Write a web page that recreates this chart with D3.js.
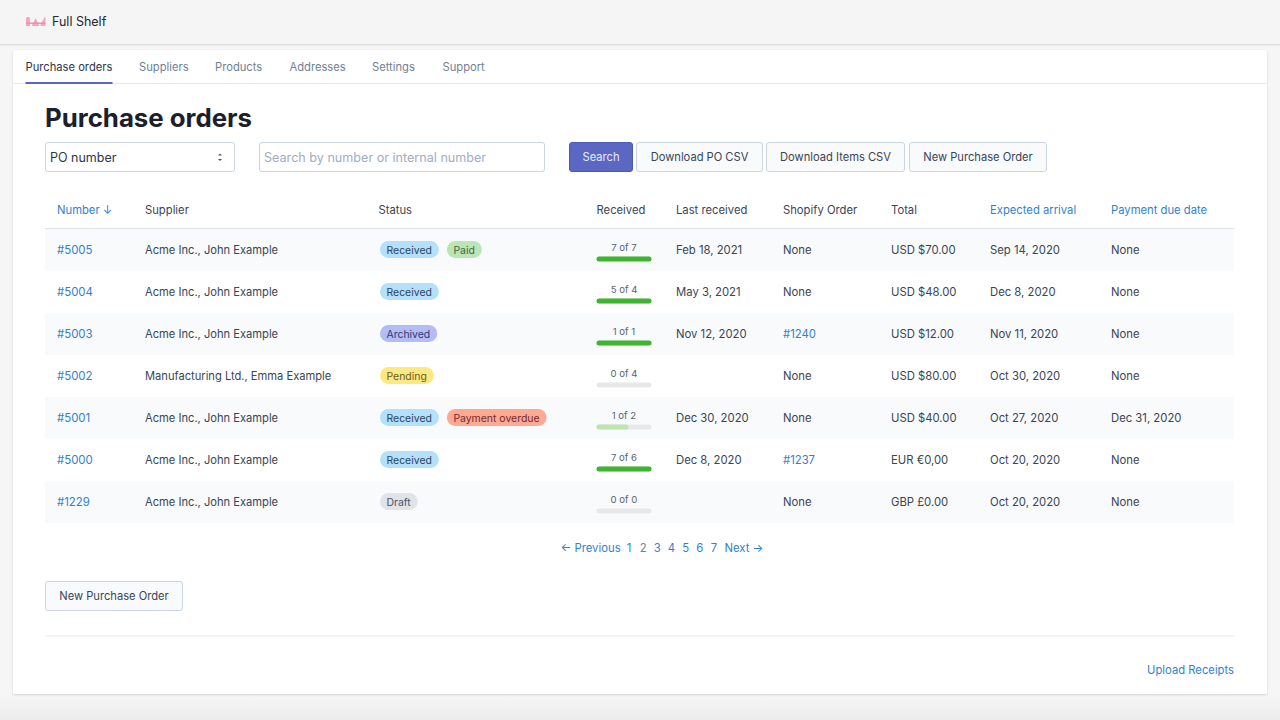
<!DOCTYPE html>
<html>
<head>
<meta charset="utf-8">
<script src="https://cdn.jsdelivr.net/npm/d3@7"></script>
<style>
  html, body { margin: 0; padding: 0; background: #f6f6f6; overflow: hidden; }
  svg { display: block; font-family: Inter, "Noto Sans", sans-serif; }
</style>
</head>
<body>
<div id="chart-container"></div>
<script>
// Data
const navTabs = ["Purchase orders", "Suppliers", "Products", "Addresses", "Settings", "Support"];
const columns = ["Number ↓", "Supplier", "Status", "Received", "Last received", "Shopify Order", "Total", "Expected arrival", "Payment due date"];
const linkColumns = ["Number ↓", "Expected arrival", "Payment due date"];
const poNumbers = ["#5005", "#5004", "#5003", "#5002", "#5001", "#5000", "#1229"];
const suppliers = ["Acme Inc., John Example", "Acme Inc., John Example", "Acme Inc., John Example", "Manufacturing Ltd., Emma Example", "Acme Inc., John Example", "Acme Inc., John Example", "Acme Inc., John Example"];
const statuses = [["Received", "Paid"], ["Received"], ["Archived"], ["Pending"], ["Received", "Payment overdue"], ["Received"], ["Draft"]];
const receivedLabels = ["7 of 7", "5 of 4", "1 of 1", "0 of 4", "1 of 2", "7 of 6", "0 of 0"];
const receivedShare = [1, 1, 1, 0, 0.58, 1, 0];
const lastReceived = ["Feb 18, 2021", "May 3, 2021", "Nov 12, 2020", "", "Dec 30, 2020", "Dec 8, 2020", ""];
const shopifyOrders = ["None", "None", "#1240", "None", "None", "#1237", "None"];
const totals = ["USD $70.00", "USD $48.00", "USD $12.00", "USD $80.00", "USD $40.00", "EUR €0,00", "GBP £0.00"];
const expectedArrival = ["Sep 14, 2020", "Dec 8, 2020", "Nov 11, 2020", "Oct 30, 2020", "Oct 27, 2020", "Oct 20, 2020", "Oct 20, 2020"];
const paymentDue = ["None", "None", "None", "None", "Dec 31, 2020", "None", "None"];
const pages = ["1", "2", "3", "4", "5", "6", "7"];

const blue = "#3182ce", ink = "#3a4454", green = "#3fb52f";
const badgeColors = {
    "Received": ["#b3e0fa", "#2a4365"],
    "Paid": ["#bce5b5", "#3f6a3f"],
    "Archived": ["#b3bcf3", "#2f3a7e"],
    "Pending": ["#fde983", "#6b5d20"],
    "Payment overdue": ["#fea993", "#742a2a"],
    "Draft": ["#e0e3e8", "#4a5568"]
};

const width = 1280, height = 720;
const svg = d3.select("#chart-container").append("svg")
    .attr("width", width).attr("height", height);

const defs = svg.append("defs");
const pageFade = defs.append("linearGradient").attr("id", "pageFade").attr("x2", 0).attr("y2", 1);
pageFade.append("stop").attr("offset", 0).attr("stop-color", "#f6f6f6");
pageFade.append("stop").attr("offset", 1).attr("stop-color", "#ececec");
const shadow = defs.append("filter").attr("id", "cardShadow")
    .attr("x", "-2%").attr("y", "-2%").attr("width", "104%").attr("height", "104%");
shadow.append("feDropShadow").attr("dx", 0).attr("dy", 1).attr("stdDeviation", 1)
    .attr("flood-color", "#000").attr("flood-opacity", 0.14);

function label(parent, x, y, text, size, fill, anchor) {
    return parent.append("text")
        .attr("x", x).attr("y", y)
        .attr("font-size", size).attr("fill", fill)
        .attr("text-anchor", anchor || "start")
        .attr("dominant-baseline", "central")
        .text(text);
}

// Page background and top bar
svg.append("rect").attr("width", width).attr("height", height).attr("fill", "#f6f6f6");
svg.append("rect").attr("y", 694).attr("width", width).attr("height", 26).attr("fill", "url(#pageFade)");
svg.append("rect").attr("width", width).attr("height", 44).attr("fill", "#f5f5f5");
svg.append("rect").attr("y", 44).attr("width", width).attr("height", 1.5).attr("fill", "#dfdfdf");

// Logo
const logo = svg.append("g").attr("fill", "#f59ab5").attr("opacity", 0.85);
logo.append("path").attr("d", "M26 26V18.5C26 16.5 30 16.5 30 18.5V26Z");
logo.append("path").attr("d", "M31.5 26L35.5 18L39.5 26Z");
logo.append("path").attr("d", "M40.5 26C40.5 22 43 22 44 17.5L45.5 17.5V26Z");
logo.append("rect").attr("x", 26).attr("y", 22.5).attr("width", 19.5).attr("height", 1.4).attr("fill", "#ee7d9f");
label(svg, 52, 21.5, "Full Shelf", 12.5, "#1f2933");

// Card
svg.append("rect")
    .attr("x", 13).attr("y", 50).attr("width", 1254).attr("height", 644).attr("rx", 2)
    .attr("fill", "#fff").attr("filter", "url(#cardShadow)");

// Tabs
const tabX = d3.scaleOrdinal().domain(navTabs).range([25.5, 139, 215, 289.5, 372, 442.5]);
svg.append("rect").attr("x", 13).attr("y", 83).attr("width", 1254).attr("height", 1).attr("fill", "#e2e8f0");
navTabs.forEach((t, i) => {
    label(svg, tabX(t), 67, t, 11.2, i === 0 ? "#2d3748" : "#718096");
});
svg.append("rect").attr("x", 25.5).attr("y", 82).attr("width", 87).attr("height", 2).attr("fill", "#5a67c8");

// Title
label(svg, 45, 117.5, "Purchase orders", 25.8, "#1a202c").attr("font-weight", 700);

// Search row
function button(x, w, y, h, text, fill, stroke, color) {
    svg.append("rect")
        .attr("x", x + 0.5).attr("y", y + 0.5).attr("width", w - 1).attr("height", h - 1).attr("rx", 2.5)
        .attr("fill", fill).attr("stroke", stroke);
    label(svg, x + w / 2, y + h / 2, text, 11.15, color, "middle");
}
svg.append("rect").attr("x", 45.5).attr("y", 142.5).attr("width", 189).attr("height", 29).attr("rx", 2.5)
    .attr("fill", "#fff").attr("stroke", "#cbd5e0");
label(svg, 50, 157, "PO number", 12.5, "#2d3748");
svg.append("path").attr("d", "M218 155.5L220 153.5L222 155.5Z M218 159L220 161L222 159Z").attr("fill", "#4a5568");
svg.append("rect").attr("x", 259.5).attr("y", 142.5).attr("width", 285).attr("height", 29).attr("rx", 2.5)
    .attr("fill", "#fff").attr("stroke", "#cbd5e0");
label(svg, 264, 157, "Search by number or internal number", 12.6, "#a0aec0");
button(569, 64, 142, 30, "Search", "#5a67c3", "#4c5ab5", "#e8ebfa");
button(636, 127, 142, 30, "Download PO CSV", "#f9fafc", "#cbd5e0", ink);
button(766, 139, 142, 30, "Download Items CSV", "#f9fafc", "#cbd5e0", ink);
button(909, 138, 142, 30, "New Purchase Order", "#f9fafc", "#cbd5e0", ink);

// Table scales
const colX = d3.scaleOrdinal().domain(columns).range([57, 145, 378.5, 596.5, 676, 783, 891, 990, 1111]);
const rowY = d3.scaleBand().domain(poNumbers).range([229, 523]);
const shareX = d3.scaleLinear().domain([0, 1]).range([0, 55]);
const rowMid = d => rowY(d) + rowY.bandwidth() / 2;

// Header
columns.forEach(c => {
    label(svg, colX(c), 210, c, 11.25, linkColumns.includes(c) ? blue : ink);
});
svg.append("rect").attr("x", 45).attr("y", 228).attr("width", 1189).attr("height", 1).attr("fill", "#dde3ea");

// Striped rows
svg.selectAll(".row").data(poNumbers.filter((d, i) => i % 2 === 0)).enter().append("rect")
    .attr("class", "row")
    .attr("x", 45).attr("y", d => rowY(d))
    .attr("width", 1189).attr("height", rowY.bandwidth())
    .attr("fill", "#f8fafc");

poNumbers.forEach((po, i) => {
    const y = rowMid(po) - 0.5;
    label(svg, colX(columns[0]), y, po, 11.4, blue);
    label(svg, colX(columns[1]), y, suppliers[i], 11.15, ink);

    // Status badges
    let bx = colX(columns[2]) + 1.5;
    statuses[i].forEach(s => {
        const g = svg.append("g");
        const txt = label(g, bx + 6.5, y + 0.5, s, 10.45, badgeColors[s][1]);
        const w = txt.node().getComputedTextLength() + 13.5;
        g.insert("rect", "text")
            .attr("x", bx).attr("y", y - 8.5).attr("width", w).attr("height", 17).attr("rx", 8.5)
            .attr("fill", badgeColors[s][0]);
        bx += w + 8;
    });

    // Received progress
    const px = colX(columns[3]);
    label(svg, px + 27.5, y - 2, receivedLabels[i], 9.6, "#5a6473", "middle");
    svg.append("rect").attr("x", px).attr("y", y + 7).attr("width", shareX(1)).attr("height", 5).attr("rx", 2.5).attr("fill", "#e8e8e8");
    const share = receivedShare[i];
    if (share > 0) {
        svg.append("rect").attr("x", px).attr("y", y + 7).attr("width", shareX(share)).attr("height", 5).attr("rx", 2.5)
            .attr("fill", share < 1 ? "#bce5b0" : green);
    }

    label(svg, colX(columns[4]), y, lastReceived[i], 11.3, ink);
    label(svg, colX(columns[5]), y, shopifyOrders[i], 11.3, shopifyOrders[i] === "None" ? ink : blue);
    label(svg, colX(columns[6]), y, totals[i], 11.3, ink);
    label(svg, colX(columns[7]), y, expectedArrival[i], 11.3, ink);
    label(svg, colX(columns[8]), y, paymentDue[i], 11.3, ink);
});

// Pagination
label(svg, 560.5, 548, "← Previous", 11.3, blue);
const pageX = d3.scalePoint().domain(pages).range([629, 714]);
pages.forEach(p => {
    label(svg, pageX(p), 548, p, 11.3, p === "2" ? "#718096" : blue, "middle");
});
label(svg, 724.5, 548, "Next →", 11.3, blue);

// Footer
button(45, 138, 581, 30, "New Purchase Order", "#f9fafc", "#cbd5e0", ink);
svg.append("rect").attr("x", 45).attr("y", 635).attr("width", 1189).attr("height", 1.5).attr("fill", "#edf1f3");
label(svg, 1234, 670, "Upload Receipts", 11.25, blue, "end");
</script>
</body>
</html>
